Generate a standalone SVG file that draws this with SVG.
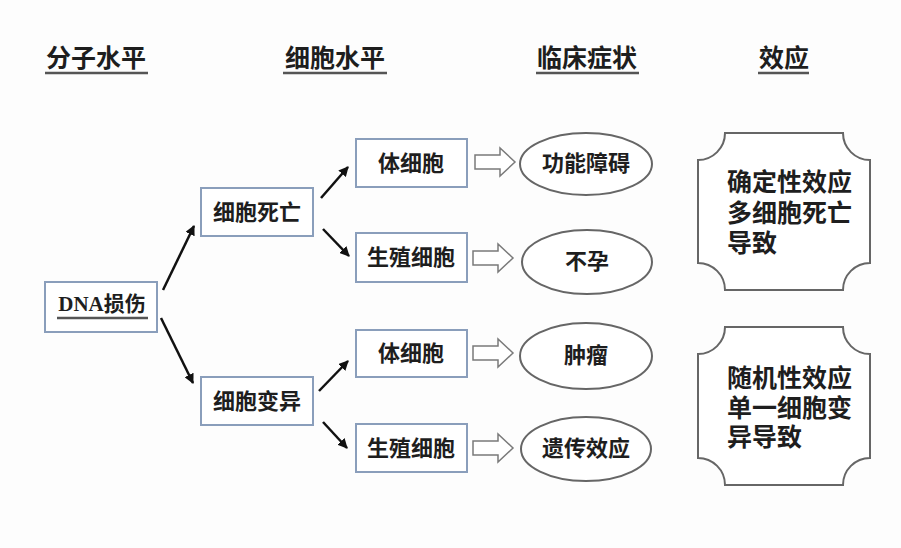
<svg xmlns="http://www.w3.org/2000/svg" width="901" height="548" viewBox="0 0 901 548">
<defs>
<marker id="ah" viewBox="0 0 10 10" refX="9" refY="5" markerWidth="10" markerHeight="10" markerUnits="userSpaceOnUse" orient="auto">
<path d="M0,0 L10,5 L0,10 Z" fill="#111"/>
</marker>
<path id="blk" d="M0,-7 L25,-7 L25,-14 L40,0 L25,14 L25,7 L0,7 Z"/>
</defs>
<style>
text{font-family:"Liberation Serif","Noto Sans CJK SC",serif;font-weight:bold;fill:#1e1e1e;}
.hd{font-size:25px;text-anchor:middle;}
.bx{font-size:22px;text-anchor:middle;}
.rt{font-size:25px;}
.box{fill:#fff;stroke:#8a9ebb;stroke-width:2;}
.ell{fill:#fff;stroke:#666;stroke-width:2;}
.blk{fill:#fff;stroke:#7a7a7a;stroke-width:1.5;}
.ul{stroke:#555;stroke-width:2.5;}
.cn{stroke:#111;stroke-width:2.5;fill:none;marker-end:url(#ah);}
.rb{fill:#fff;stroke:#666;stroke-width:2;}
</style>
<rect width="901" height="548" fill="#fdfdfd"/>
<g id="headers">
<text class="hd" x="96" y="67">分子水平</text>
<line class="ul" x1="45" y1="73" x2="148" y2="73"/>
<text class="hd" x="335" y="67">细胞水平</text>
<line class="ul" x1="283" y1="73" x2="387" y2="73"/>
<text class="hd" x="587" y="67">临床症状</text>
<line class="ul" x1="536" y1="73" x2="639" y2="73"/>
<text class="hd" x="784" y="67">效应</text>
<line class="ul" x1="758" y1="73" x2="809" y2="73"/>
</g>
<g id="dna">
<rect class="box" x="45" y="282" width="112" height="50"/>
<text class="bx" x="102" y="311" style="font-size:21px">DNA损伤</text>
<line class="ul" x1="57" y1="318" x2="148" y2="318"/>
</g>
<g id="death">
<rect class="box" x="201" y="188" width="112" height="48"/>
<text class="bx" x="257" y="220">细胞死亡</text>
</g>
<g id="mutation">
<rect class="box" x="201" y="377" width="112" height="48"/>
<text class="bx" x="257" y="409">细胞变异</text>
</g>
<g id="soma1">
<rect class="box" x="356" y="139" width="111" height="48"/>
<text class="bx" x="411" y="171">体细胞</text>
</g>
<g id="germ1">
<rect class="box" x="356" y="233" width="111" height="49"/>
<text class="bx" x="411" y="265">生殖细胞</text>
</g>
<g id="soma2">
<rect class="box" x="356" y="330" width="111" height="47"/>
<text class="bx" x="411" y="361">体细胞</text>
</g>
<g id="germ2">
<rect class="box" x="356" y="424" width="111" height="48"/>
<text class="bx" x="411" y="456">生殖细胞</text>
</g>
<g id="dysfunction">
<ellipse class="ell" cx="586" cy="164" rx="66" ry="31"/>
<text class="bx" x="586" y="171">功能障碍</text>
</g>
<g id="infertility">
<ellipse class="ell" cx="587" cy="262" rx="65" ry="32"/>
<text class="bx" x="587" y="269">不孕</text>
</g>
<g id="tumor">
<ellipse class="ell" cx="586" cy="356" rx="66" ry="33"/>
<text class="bx" x="586" y="363">肿瘤</text>
</g>
<g id="hereditary">
<ellipse class="ell" cx="586" cy="449" rx="65" ry="32"/>
<text class="bx" x="586" y="456">遗传效应</text>
</g>
<g id="deterministic">
<path class="rb" d="M725,133 L843,133 A27,27 0 0 0 870,160 L870,263 A27,27 0 0 0 843,290 L725,290 A27,27 0 0 0 698,263 L698,160 A27,27 0 0 0 725,133 Z"/>
<text class="rt" x="727" y="191">确定性效应</text>
<text class="rt" x="727" y="222">多细胞死亡</text>
<text class="rt" x="727" y="252">导致</text>
</g>
<g id="stochastic">
<path class="rb" d="M725,327 L843,327 A27,27 0 0 0 870,354 L870,458 A27,27 0 0 0 843,485 L725,485 A27,27 0 0 0 698,458 L698,354 A27,27 0 0 0 725,327 Z"/>
<text class="rt" x="727" y="387">随机性效应</text>
<text class="rt" x="727" y="417">单一细胞变</text>
<text class="rt" x="727" y="446">异导致</text>
</g>
<g id="connectors">
<line class="cn" x1="163" y1="290" x2="194" y2="226"/>
<line class="cn" x1="161" y1="318" x2="193" y2="383"/>
<line class="cn" x1="321" y1="198" x2="348" y2="167"/>
<line class="cn" x1="323" y1="229" x2="349" y2="256"/>
<line class="cn" x1="319" y1="391" x2="348" y2="361"/>
<line class="cn" x1="323" y1="422" x2="347" y2="448"/>
<use href="#blk" class="blk" x="475" y="162"/>
<use href="#blk" class="blk" x="473" y="258"/>
<use href="#blk" class="blk" x="473" y="353"/>
<use href="#blk" class="blk" x="473" y="448"/>
</g>
</svg>
